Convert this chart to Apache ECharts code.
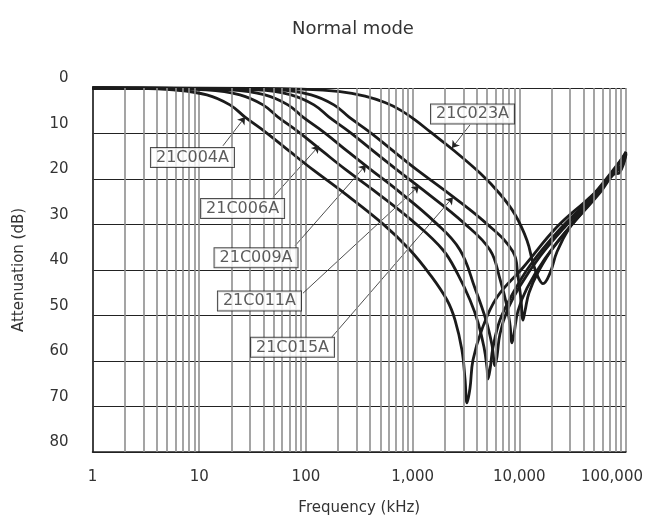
<!DOCTYPE html>
<html>
<head>
<meta charset="utf-8">
<title>Normal mode</title>
<script src="https://cdn.jsdelivr.net/npm/echarts/dist/echarts.min.js"></script>
<style>
  html, body { margin: 0; padding: 0; background: #fff; }
  #chart { width: 654px; height: 517px; }
</style>
</head>
<body>
<div id="chart"></div>
<script>
// frequency in kHz, attenuation in dB
const f004 = [1, 2.5, 5.7, 11.8, 19.4, 26.9, 43, 71, 117, 209, 517, 945, 1456, 2100, 2500, 2900, 3100, 3235, 3450, 3680, 4470, 6180, 10800, 22600, 46000, 70800, 100000];
const d004 = [0, 0.05, 0.4, 1.5, 3.7, 6.4, 9.9, 14, 18, 22.4, 29.7, 35.6, 41, 46.6, 51, 57.6, 64, 69.2, 66, 59.8, 53, 46, 39.5, 30.5, 24, 19.5, 14];

const f006 = [1, 3, 11.6, 24.1, 39.6, 54.8, 88, 145, 238, 426, 1053, 1927, 2665, 3451, 4100, 4670, 4980, 5090, 5310, 5670, 6590, 8540, 12600, 24100, 46000, 100000];
const d006 = [0, 0.05, 0.4, 1.5, 3.7, 6.4, 9.9, 14, 18, 22.4, 29.7, 35.6, 41, 46.6, 51.5, 57, 61.5, 64, 62, 57, 51, 45.5, 39, 31, 24.3, 14.3];

const f009 = [1, 3.5, 19.9, 41.4, 67.9, 93.9, 151, 248, 408, 714, 1657, 2782, 3844, 4875, 5548, 5920, 6180, 6594, 7668, 10150, 15630, 26820, 48000, 100000];
const d009 = [0, 0.05, 0.4, 1.5, 3.7, 6.4, 9.9, 14, 18, 22.4, 29.7, 35.6, 44, 51, 56.5, 61, 59, 54, 49, 43.5, 37, 30.5, 24.3, 14.5];

const f011 = [1, 4, 34.8, 72.5, 119, 165, 265, 435, 714, 1252, 3032, 5314, 6594, 7668, 8180, 8543, 8920, 9723, 11810, 17410, 29870, 51220, 76000, 87870, 100000];
const d011 = [0, 0.05, 0.4, 1.5, 3.7, 6.4, 9.9, 14, 18, 22.4, 29.7, 35.6, 42, 48, 52, 56, 54, 49, 44, 37.5, 30.5, 24, 18.3, 17.9, 14.4];

const f015 = [1, 5, 53.6, 112, 183, 254, 408, 670, 1100, 1970, 4875, 8729, 9723, 10370, 10833, 11310, 12330, 14970, 21610, 35500, 57060, 76000, 87000, 100000];
const d015 = [0, 0.05, 0.4, 1.5, 3.7, 6.4, 9.9, 14, 18, 22.4, 29.7, 36, 41.5, 46.5, 51, 49, 45, 40.5, 34.5, 28.5, 23, 19, 18.6, 14.6];

const f023 = [1, 30, 88, 209, 358, 551, 762, 1053, 1456, 2340, 4282, 6594, 9115, 11810, 13440, 14970, 16680, 19400, 22560, 29870, 45980, 66360, 87870, 100000];
const d023 = [0, 0.1, 0.25, 0.8, 1.8, 3.2, 4.8, 7.0, 9.6, 13.4, 18.7, 23.3, 27.8, 33.5, 38.5, 41.5, 43, 40.7, 36, 30.5, 24.6, 20.2, 17.4, 14.3];

const curves = [
  { name: "21C004A", freq: f004, atten: d004 },
  { name: "21C006A", freq: f006, atten: d006 },
  { name: "21C009A", freq: f009, atten: d009 },
  { name: "21C011A", freq: f011, atten: d011 },
  { name: "21C015A", freq: f015, atten: d015 },
  { name: "21C023A", freq: f023, atten: d023 }
];

// label boxes: [freq, dB, text] and arrows [from, to]
const labelBoxes = [
  [8.65, 15.3, "21C004A"],
  [25.5, 26.5, "21C006A"],
  [34.1, 37.3, "21C009A"],
  [36.7, 46.8, "21C011A"],
  [74.9, 57.0, "21C015A"],
  [3643, 5.7, "21C023A"]
];
const arrowLines = [
  [[16.7, 12.7], [26.9, 6.4]],
  [[49.2, 24.0], [132.7, 12.7]],
  [[79, 34.7], [366, 16.9]],
  [[93.9, 45.1], [1148, 21.5]],
  [[175.6, 54.7], [2390, 24.0]],
  [[3451, 8.1], [2340, 13.2]]
];

// minor log grid 2..9 in every decade
const decades = [1, 10, 100, 1000, 10000];
const multipliers = [2, 3, 4, 5, 6, 7, 8, 9];
const minorX = [];
decades.forEach(d => multipliers.forEach(m => minorX.push(d * m)));

const FONT = "DejaVu Sans";
const txt = "#333";

let series = [];

// gray minor vertical lines
series.push({
  type: "line",
  name: "grid",
  data: [],
  z: 1,
  silent: true,
  markLine: {
    silent: true,
    symbol: ["none", "none"],
    animation: false,
    label: { show: false },
    lineStyle: { color: "#8e8e8e", width: 1.6, type: "solid" },
    data: minorX.map(v => ({ xAxis: v }))
  }
});

curves.forEach(c => {
  series.push({
    type: "line",
    name: c.name,
    data: c.freq.map((f, i) => [f, c.atten[i]]),
    smooth: 0.4,
    showSymbol: false,
    clip: false,
    z: 3,
    lineStyle: { color: "#1b1b1b", width: 2.8 }
  });
});

// arrows
series.push({
  type: "lines",
  coordinateSystem: "cartesian2d",
  z: 4,
  silent: true,
  symbol: ["none", "arrow"],
  symbolSize: [0, 7],
  lineStyle: { color: "#222", width: 0.8, opacity: 1 },
  data: arrowLines.map(a => ({ coords: a }))
});

// label boxes
series.push({
  type: "scatter",
  z: 5,
  silent: true,
  symbol: "rect",
  symbolSize: 1,
  itemStyle: { color: "rgba(0,0,0,0)" },
  data: labelBoxes,
  label: {
    show: true,
    position: "inside",
    formatter: p => p.data[2],
    fontFamily: FONT,
    fontSize: 16,
    color: txt,
    backgroundColor: "#fff",
    borderColor: "#222",
    borderWidth: 1,
    padding: [2, 5, 1, 5]
  }
});

let option = {
  animation: false,
  backgroundColor: "#fff",
  title: {
    text: "Normal mode",
    left: 287,
    top: 15,
    textStyle: { fontFamily: FONT, fontSize: 18, fontWeight: "normal", color: txt }
  },
  grid: { left: 92.5, right: 28, top: 88, bottom: 65, outerBoundsMode: "none", containLabel: false },
  xAxis: {
    type: "log",
    logBase: 10,
    min: 1,
    max: 100000,
    name: "Frequency (kHz)",
    nameLocation: "middle",
    nameGap: 49,
    nameTextStyle: { fontFamily: FONT, fontSize: 15, color: txt },
    axisLine: { onZero: false, lineStyle: { color: "#222", width: 1.5 } },
    axisTick: { show: false },
    axisLabel: {
      margin: 18,
      fontFamily: FONT,
      fontSize: 15,
      color: txt,
      alignMaxLabel: "right",
      formatter: v => {
        let s = Number(v).toLocaleString("en-US");
        return Number(v) === 100000 ? "{m|" + s + "}" : s;
      },
      rich: {
        m: { fontFamily: FONT, fontSize: 15, color: txt, padding: [0, -17, 0, 0] }
      }
    },
    splitLine: { show: true, lineStyle: { color: "#8e8e8e", width: 1.6 } }
  },
  yAxis: {
    type: "value",
    inverse: true,
    min: 0,
    max: 80,
    interval: 10,
    name: "Attenuation (dB)",
    nameLocation: "middle",
    nameGap: 66,
    nameTextStyle: { fontFamily: FONT, fontSize: 15, color: txt },
    axisLine: { show: true, lineStyle: { color: "#222", width: 1.5 } },
    axisTick: { show: false },
    axisLabel: {
      margin: 24,
      fontFamily: FONT,
      fontSize: 15,
      color: txt,
      verticalAlign: "bottom",
      padding: [0, 0, 2, 0]
    },
    splitLine: { show: true, lineStyle: { color: "#222", width: 1 } }
  },
  series: series
};

let myChart = echarts.init(document.getElementById("chart"));
myChart.setOption(option);
</script>
</body>
</html>
